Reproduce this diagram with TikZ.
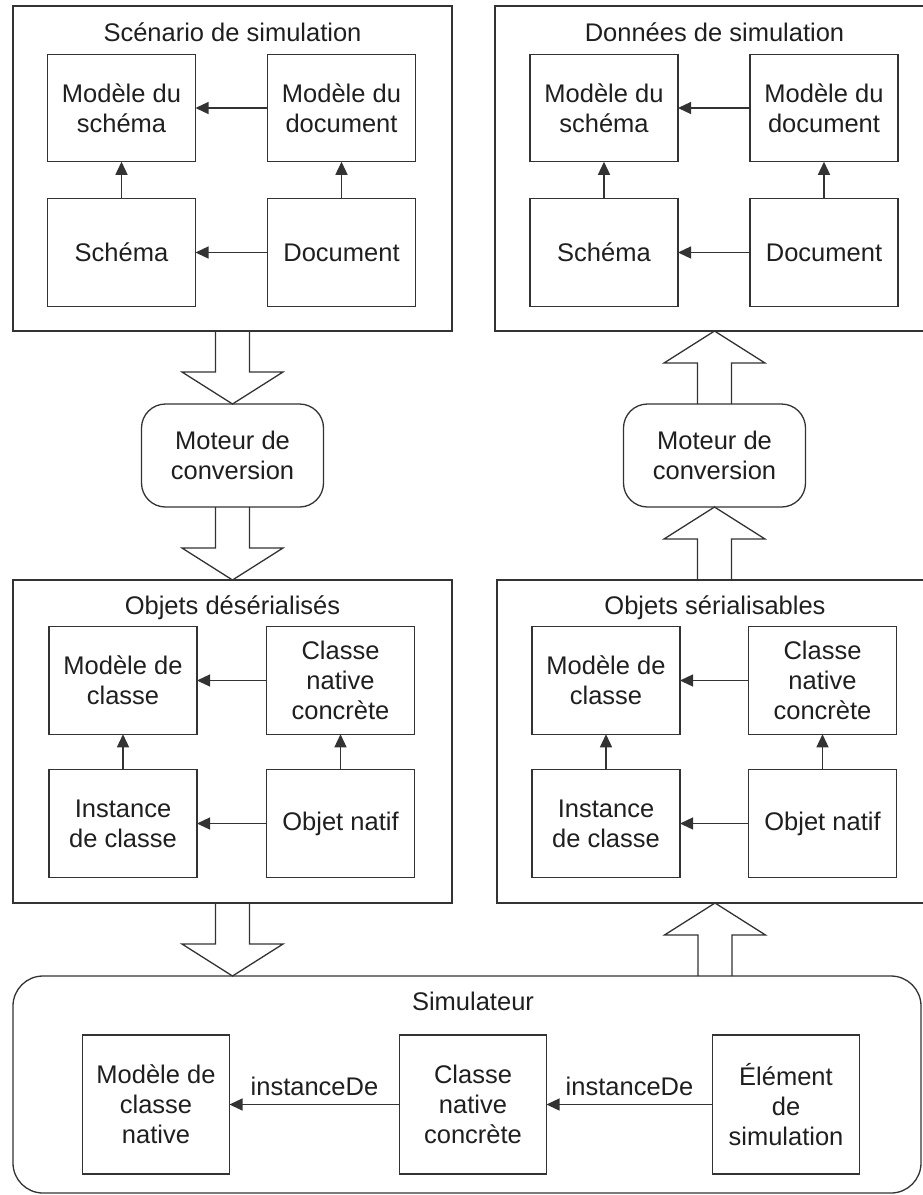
\documentclass[tikz,border=0pt]{standalone}
\usepackage{fontspec}
\setmainfont{Liberation Sans}
\usetikzlibrary{arrows.meta,calc}

% Wide hollow arrow from #1 to the tip #2 (vertical)
\newcommand\fatarrow[2]{%
  \path[flow] let \p1=(#1), \p2=(#2), \n1={ifthenelse(\y2>\y1,1,-1)} in
    (\x1-17pt,\y1) -- (\x1-17pt,{\y2-\n1*32pt}) -- (\x1-50.5pt,{\y2-\n1*32pt})
    -- (\x1,\y2) -- (\x1+50.5pt,{\y2-\n1*32pt}) -- (\x1+17pt,{\y2-\n1*32pt})
    -- (\x1+17pt,\y1);}

\begin{document}
\begin{tikzpicture}[x=1pt,y=-1pt,
  every node/.style={font=\fontsize{25.5}{30}\selectfont, text=black!88},
  frame/.style={draw=black!80, line width=1.3pt, inner sep=0pt, outer sep=0pt},
  box/.style={frame, align=center, minimum width=148pt, minimum height=107.5pt},
  simbox/.style={box, minimum width=147pt, minimum height=139pt},
  engine/.style={frame, rounded corners=24pt, align=center,
                 minimum width=182pt, minimum height=103pt},
  title/.style={anchor=base, inner sep=0pt},
  link/.style={draw=black!80, line width=1.3pt, -{Triangle[length=13pt,width=12pt]}},
  flow/.style={draw=black!80, line width=1.3pt, line join=miter},
  lbl/.style={above, inner sep=0pt, yshift=8pt}]

\useasboundingbox (0,0) rectangle (923,1195);
\clip (0,0) rectangle (923,1195);

% ---- containers ----
\node[frame, minimum width=439pt, minimum height=325pt] (scen) at (232.5,168.5) {};
\node[frame, minimum width=439pt, minimum height=325pt] (data) at (714.5,168.5) {};
\node[frame, minimum width=439pt, minimum height=323pt] (deser) at (232.5,741.5) {};
\node[frame, minimum width=436pt, minimum height=323pt] (serial) at (715,741.5) {};
\node[frame, rounded corners=30pt, minimum width=908pt, minimum height=217pt] (sim) at (467,1084.5) {};

% ---- conversion engines ----
\node[engine] (eng1) at (232.5,455.5) {Moteur de\\conversion};
\node[engine] (eng2) at (714.5,455.5) {Moteur de\\conversion};

% ---- simulation scenario ----
\node[box] (ms1) at (121.5,108) {Modèle du\\schéma};
\node[box] (md1) at (341.5,108) {Modèle du\\document};
\node[box] (s1)  at (121.5,252.5) {Schéma};
\node[box] (d1)  at (341.5,252.5) {Document};
\node[title] at ($(scen.north)+(0,35)$) {Scénario de simulation};
\draw[link] (md1) -- (ms1);
\draw[link] (d1) -- (s1);
\draw[link] (s1) -- (ms1);
\draw[link] (d1) -- (md1);

% ---- simulation data ----
\node[box] (ms2) at (604,108) {Modèle du\\schéma};
\node[box] (md2) at (824,108) {Modèle du\\document};
\node[box] (s2)  at (604,252.5) {Schéma};
\node[box] (d2)  at (824,252.5) {Document};
\node[title] at ($(data.north)+(0,35)$) {Données de simulation};
\draw[link] (md2) -- (ms2);
\draw[link] (d2) -- (s2);
\draw[link] (s2) -- (ms2);
\draw[link] (d2) -- (md2);

% ---- deserialized objects ----
\node[box] (mc1) at (123,680.5) {Modèle de\\classe};
\node[box] (cn1) at (340.5,680.5) {Classe\\native\\concrète};
\node[box] (ic1) at (123,823.5) {Instance\\de classe};
\node[box] (on1) at (340.5,823.5) {Objet natif};
\node[title] at ($(deser.north)+(0,34)$) {Objets désérialisés};
\draw[link] (cn1) -- (mc1);
\draw[link] (on1) -- (ic1);
\draw[link] (ic1) -- (mc1);
\draw[link] (on1) -- (cn1);

% ---- serializable objects ----
\node[box] (mc2) at (606,680.5) {Modèle de\\classe};
\node[box] (cn2) at (822.5,680.5) {Classe\\native\\concrète};
\node[box] (ic2) at (606,823.5) {Instance\\de classe};
\node[box] (on2) at (822.5,823.5) {Objet natif};
\node[title] at ($(serial.north)+(0,34)$) {Objets sérialisables};
\draw[link] (cn2) -- (mc2);
\draw[link] (on2) -- (ic2);
\draw[link] (ic2) -- (mc2);
\draw[link] (on2) -- (cn2);

% ---- simulator ----
\node[simbox] (mcn) at (156,1104.5) {Modèle de\\classe\\native};
\node[simbox] (cnc) at (473,1104.5) {Classe\\native\\concrète};
\node[simbox] (elt) at (786,1104.5) {Élément\\de\\simulation};
\node[title] at ($(sim.north -| cnc)+(0,34)$) {Simulateur};
\draw[link] (cnc) -- node[lbl] {instanceDe} (mcn);
\draw[link] (elt) -- node[lbl] {instanceDe} (cnc);

% ---- data flow ----
\fatarrow{scen.south -| eng1}{eng1.north}
\fatarrow{eng1.south}{deser.north -| eng1}
\fatarrow{deser.south}{sim.north -| deser.south}
\fatarrow{sim.north -| serial.south}{serial.south}
\fatarrow{serial.north -| eng2}{eng2.south}
\fatarrow{eng2.north}{data.south -| eng2}
\end{tikzpicture}
\end{document}
